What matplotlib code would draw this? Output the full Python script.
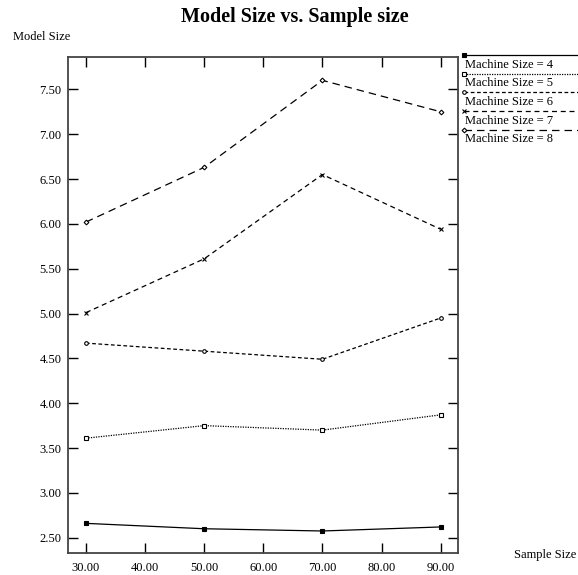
import matplotlib.pyplot as plt
from matplotlib.lines import Line2D

plt.rcParams['font.family'] = ['Liberation Serif', 'DejaVu Serif']

# data
sample_size = [30, 50, 70, 90]
machine_sizes = [4, 5, 6, 7, 8]
size4 = [2.66, 2.60, 2.575, 2.62]
size5 = [3.61, 3.75, 3.70, 3.87]
size6 = [4.67, 4.58, 4.49, 4.95]
size7 = [5.01, 5.61, 6.55, 5.94]
size8 = [6.02, 6.63, 7.60, 7.25]
series = [size4, size5, size6, size7, size8]

xticks = [30, 40, 50, 60, 70, 80, 90]
yticks = [2.5, 3.0, 3.5, 4.0, 4.5, 5.0, 5.5, 6.0, 6.5, 7.0, 7.5]

# line style, marker, marker face for each machine size
styles = [
    ('-', 's', 'black', 3.2),
    ((0, (1, 1)), 's', 'white', 3.0),
    ((0, (3, 2)), 'o', 'white', 2.6),
    ((0, (4, 3)), 'x', 'black', 3.0),
    ((0, (6, 4)), 'D', 'white', 2.4),
]

fig = plt.figure(figsize=(5.78, 5.75), dpi=100)
ax = fig.add_axes([0.118, 0.0388, 0.675, 0.8615])

for vals, (ls, mk, mfc, ms) in zip(series, styles):
    ax.plot(sample_size, vals, color='black', linestyle=ls, linewidth=0.9,
            marker=mk, markersize=ms, markerfacecolor=mfc,
            markeredgecolor='black', markeredgewidth=0.8)

ax.set_xlim(27, 93)
ax.set_ylim(2.333, 7.857)
ax.set_xticks(xticks)
ax.set_xticklabels(['%.2f' % t for t in xticks])
ax.set_yticks(yticks)
ax.set_yticklabels(['%.2f' % t for t in yticks])
ax.tick_params(axis='both', direction='in', length=7, width=1, color='black',
               labelsize=9, top=True, right=True)
ax.tick_params(axis='x', pad=7)
ax.tick_params(axis='y', pad=5)
for sp in ax.spines.values():
    sp.set_color('#444444')
    sp.set_linewidth(1.3)

fig.text(0.51, 0.97, 'Model Size vs. Sample size', ha='center', va='center',
         fontsize=14.5, fontweight='bold')
fig.text(0.022, 0.935, 'Model Size', ha='left', va='center', fontsize=9)
fig.text(0.997, 0.035, 'Sample Size', ha='right', va='center', fontsize=9)

# legend drawn to the right: line with marker on top, label below
x0 = 464 / 578
for i, (m, (ls, mk, mfc, ms)) in enumerate(zip(machine_sizes, styles)):
    yl = 1 - (55 + i * 18.7) / 575
    fig.add_artist(Line2D([x0, 1.0], [yl, yl], transform=fig.transFigure,
                          color='black', linestyle=ls, linewidth=0.9))
    fig.add_artist(Line2D([x0], [yl], transform=fig.transFigure,
                          marker=mk, markersize=ms, markerfacecolor=mfc,
                          markeredgecolor='black', markeredgewidth=0.8))
    fig.text(465 / 578, yl - 9.5 / 575, 'Machine Size = %d' % m,
             ha='left', va='center', fontsize=9)

fig.savefig('out.png', dpi=100)
